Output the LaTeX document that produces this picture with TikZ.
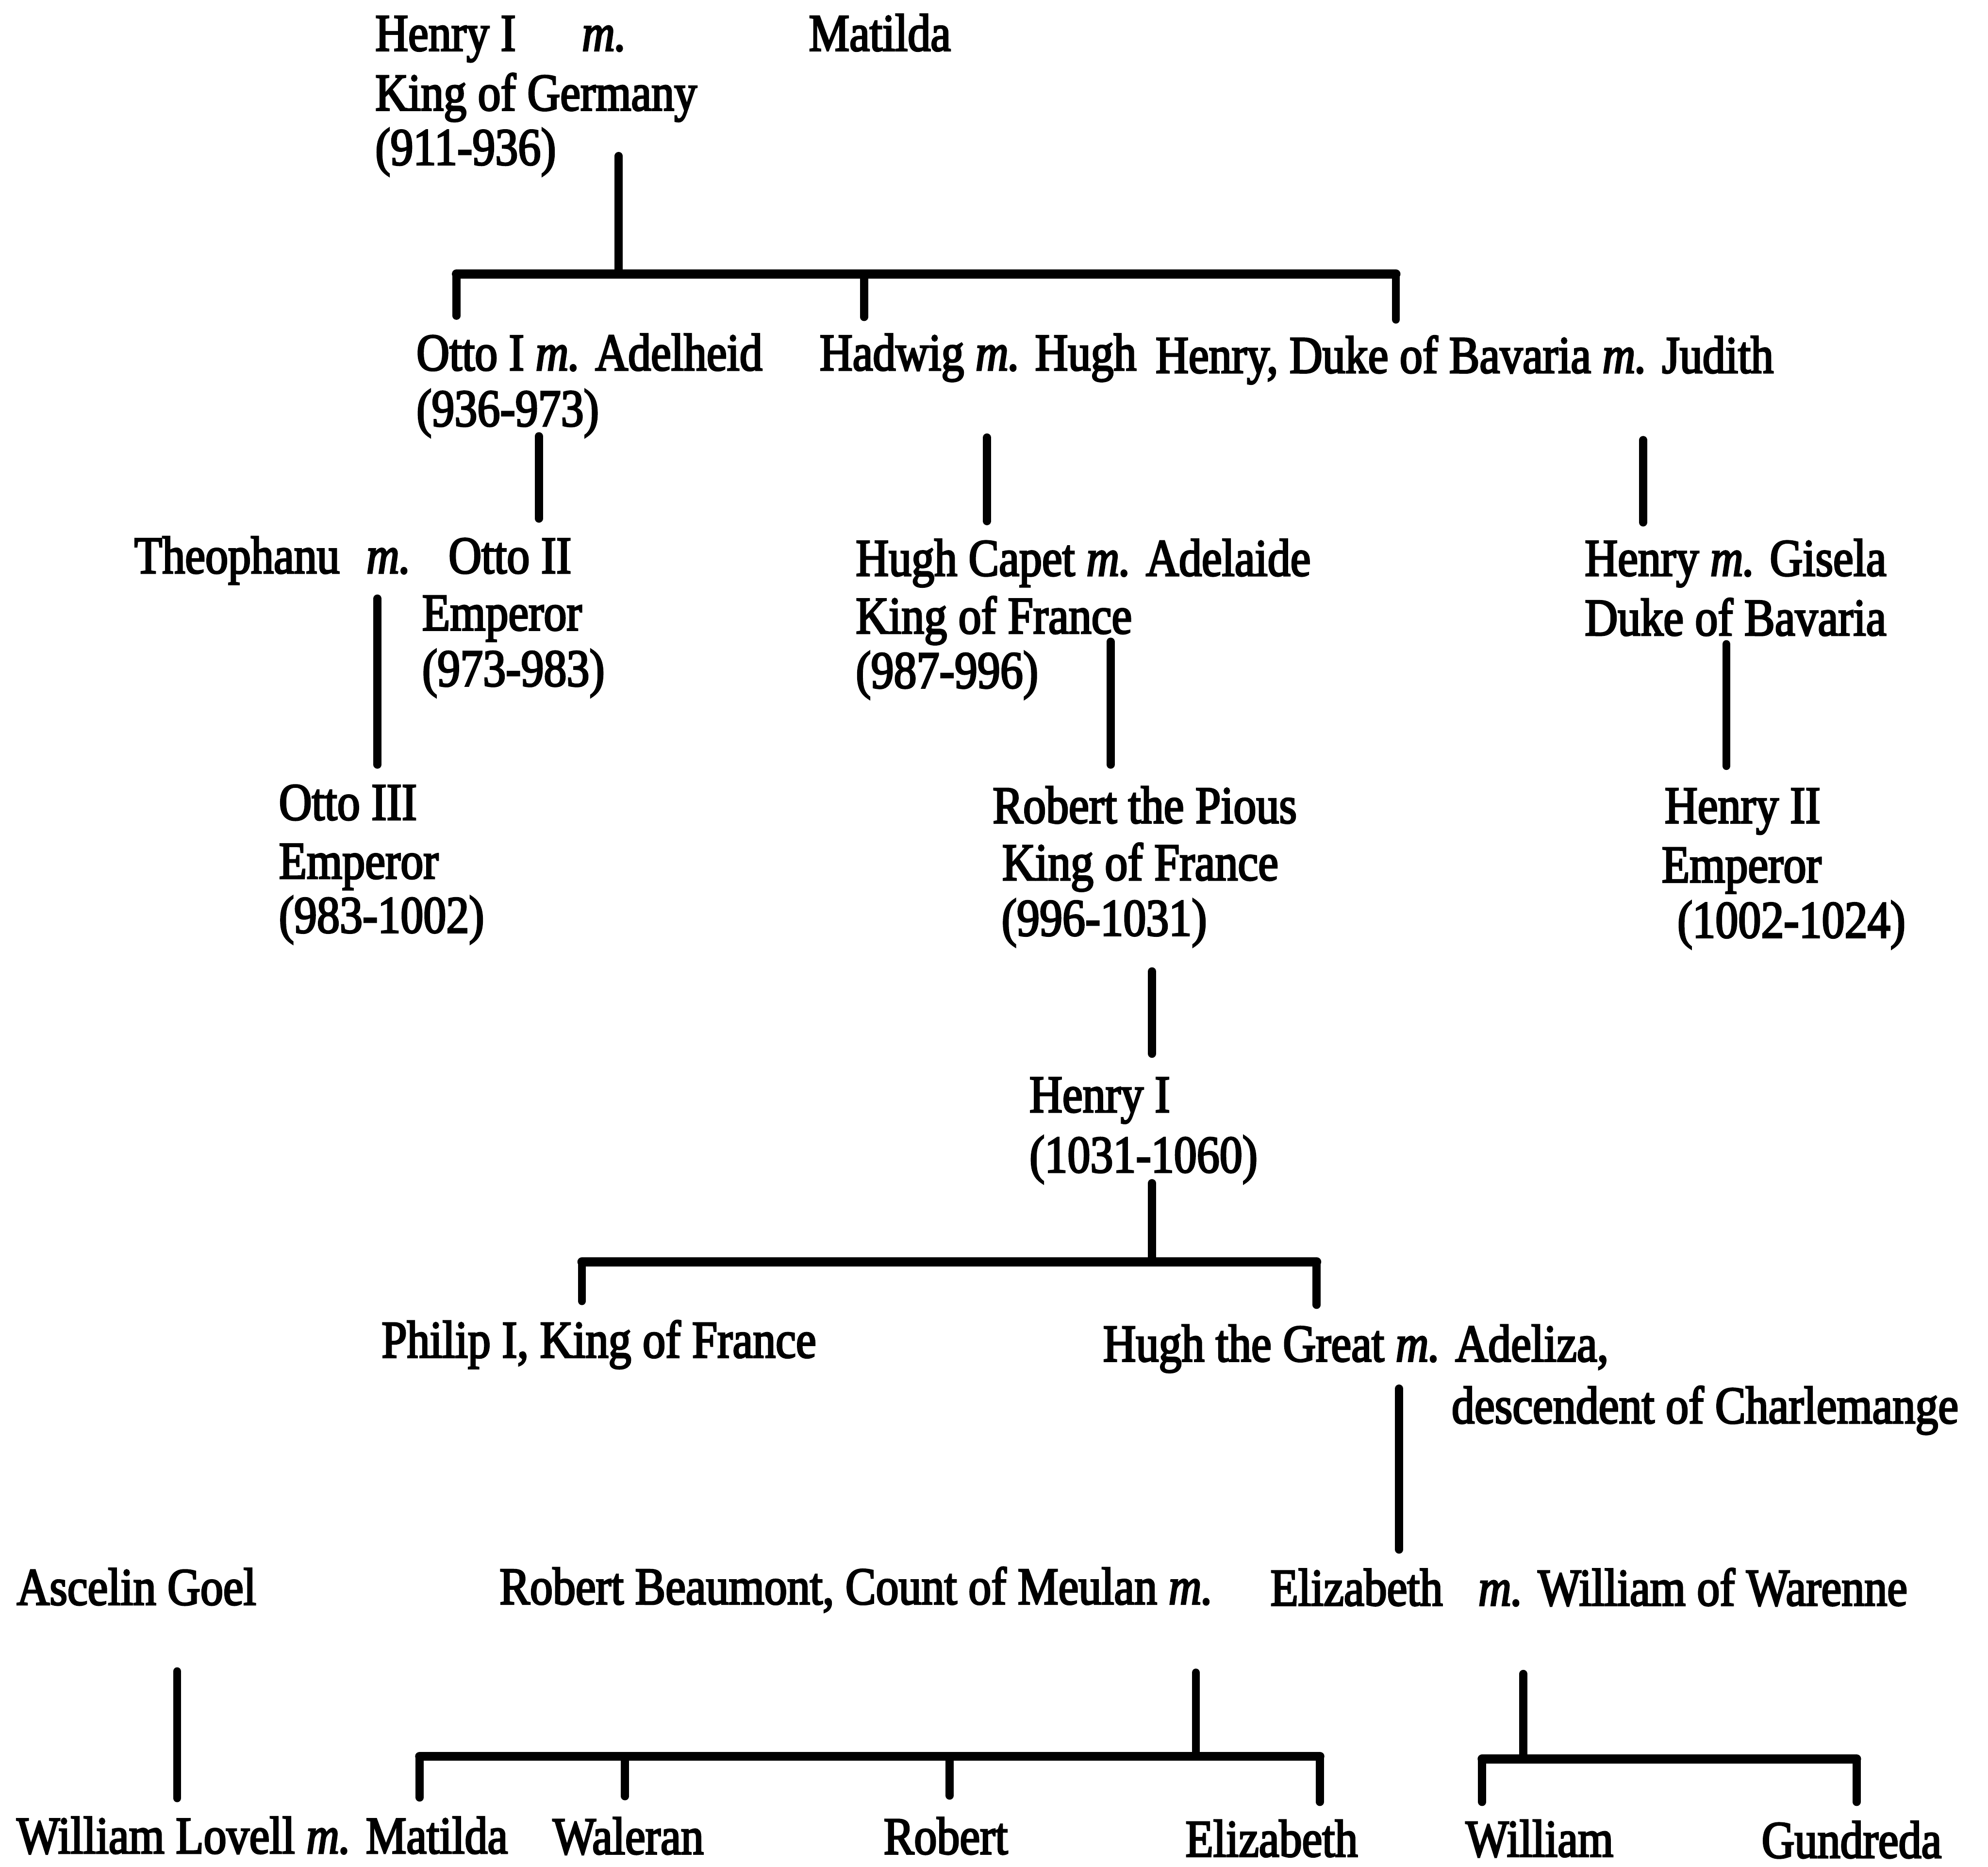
\documentclass[tikz,border=0pt]{standalone}
\usepackage{fontspec}
\setmainfont{Liberation Serif}[FakeStretch=0.865,FakeBold=3]
\begin{document}
\begin{tikzpicture}[x=0.5pt,y=-0.5pt,
    lbl/.style={anchor=base west,inner sep=0pt,outer sep=0pt,
      font=\fontsize{20.8pt}{24pt}\selectfont},
    conn/.style={line width=3.2pt,line cap=round},
    bar/.style={line width=3.6pt,line cap=round}]
\useasboundingbox (0,0) rectangle (1568,1472);

% Generation 1
\node[lbl] (henryG)   at (296,40)  {Henry I};
\node[lbl] (henryGm)  at (459,40)  {\textit{m.}};
\node[lbl] (matildaG) at (638,40)  {Matilda};
\node[lbl] (henryGt)  at (296,87)  {King of Germany};
\node[lbl] (henryGd)  at (296,130) {(911-936)};

% Generation 2
\node[lbl] (ottoI)   at (328.5,292) {Otto I \textit{m.} Adelheid};
\node[lbl] (ottoId)  at (328.5,336) {(936-973)};
\node[lbl] (hadwig)  at (646.5,292) {Hadwig \textit{m.} Hugh};
\node[lbl] (henryB)  at (911.5,294) {Henry, Duke of Bavaria \textit{m.} Judith};

% Generation 3
\node[lbl] (theo)    at (106,452)   {Theophanu};
\node[lbl] (theom)   at (289,452)   {\textit{m.}};
\node[lbl] (ottoII)  at (353.8,452) {Otto II};
\node[lbl] (ottoIIt) at (333,497)   {Emperor};
\node[lbl] (ottoIId) at (333,541)   {(973-983)};
\node[lbl] (capet)   at (675,454)   {Hugh Capet \textit{m.} Adelaide};
\node[lbl] (capett)  at (675,499.5) {King of France};
\node[lbl] (capetd)  at (675,542.5) {(987-996)};
\node[lbl] (henryGi) at (1250,454)  {Henry \textit{m.} Gisela};
\node[lbl] (henryGit) at (1250,501) {Duke of Bavaria};

% Generation 4
\node[lbl] (ottoIII)  at (220,646.5)   {Otto III};
\node[lbl] (ottoIIIt) at (220,692.8)   {Emperor};
\node[lbl] (ottoIIId) at (220,735.5)   {(983-1002)};
\node[lbl] (robertP)  at (783,649)     {Robert the Pious};
\node[lbl] (robertPt) at (790.5,694)   {King of France};
\node[lbl] (robertPd) at (790,737.8)   {(996-1031)};
\node[lbl] (henryII)  at (1313,649)    {Henry II};
\node[lbl] (henryIIt) at (1310.7,695.7) {Emperor};
\node[lbl] (henryIId) at (1323,739.4)  {(1002-1024)};

% Generation 5
\node[lbl] (henryF)  at (812,877)   {Henry I};
\node[lbl] (henryFd) at (812,924.5) {(1031-1060)};

% Generation 6
\node[lbl] (philip)  at (301,1070.5)  {Philip I, King of France};
\node[lbl] (hughG)   at (870,1073.5)  {Hugh the Great \textit{m.} Adeliza,};
\node[lbl] (adeliza) at (1145,1122.3) {descendent of Charlemange};

% Generation 7
\node[lbl] (ascelin)  at (13.2,1265.5) {Ascelin Goel};
\node[lbl] (beaumont) at (394,1265)    {Robert Beaumont, Count of Meulan \textit{m.}};
\node[lbl] (elizA)    at (1002,1266)   {Elizabeth};
\node[lbl] (warenne)  at (1166,1266)   {\textit{m.} William of Warenne};

% Generation 8
\node[lbl] (lovell)   at (13.2,1461.5) {William Lovell \textit{m.} Matilda};
\node[lbl] (waleran)  at (436,1462)    {Waleran};
\node[lbl] (robertB)  at (697,1462)    {Robert};
\node[lbl] (elizB)    at (935,1464)    {Elizabeth};
\node[lbl] (williamW) at (1156,1464)   {William};
\node[lbl] (gundreda) at (1389.5,1465) {Gundreda};

% Line ends
\coordinate (g1top) at (488,123);
\coordinate (g1bar) at (488,216);
\coordinate (g1L)  at (360,216);
\coordinate (g1M)  at (681.5,216);
\coordinate (g1R)  at (1101,216);
\coordinate (g1Ld) at (360,249);
\coordinate (g1Md) at (681.5,250);
\coordinate (g1Rd) at (1101,252);

\coordinate (ottoIa)  at (425,344);
\coordinate (ottoIb)  at (425,409);
\coordinate (hadwiga) at (778.4,345);
\coordinate (hadwigb) at (778.4,411);
\coordinate (henryBa) at (1296,347);
\coordinate (henryBb) at (1296,412);

\coordinate (ottoIIa) at (297.7,472);
\coordinate (ottoIIb) at (297.7,603);
\coordinate (capeta)  at (876,506);
\coordinate (capetb)  at (876,603);
\coordinate (henryGia) at (1361.6,508);
\coordinate (henryGib) at (1361.6,604);

\coordinate (robertPa) at (908.6,766);
\coordinate (robertPb) at (908.6,831);

\coordinate (henryFa) at (908.6,933);
\coordinate (henryFb) at (908.6,995);
\coordinate (g5L)  at (459,995);
\coordinate (g5R)  at (1038.5,995);
\coordinate (g5Ld) at (459,1026);
\coordinate (g5Rd) at (1038.5,1029);

\coordinate (hughGa) at (1103.5,1095);
\coordinate (hughGb) at (1103.5,1222);

\coordinate (ascelina) at (139.7,1318);
\coordinate (ascelinb) at (139.7,1418);

\coordinate (beauma) at (943.2,1319);
\coordinate (beaumb) at (943.2,1385);
\coordinate (g7L)  at (331,1385);
\coordinate (g7A)  at (493,1385);
\coordinate (g7B)  at (749,1385);
\coordinate (g7R)  at (1041,1385);
\coordinate (g7Ld) at (331,1417.5);
\coordinate (g7Ad) at (493,1416.5);
\coordinate (g7Bd) at (749,1416);
\coordinate (g7Rd) at (1041,1421);

\coordinate (warena) at (1201.5,1320);
\coordinate (warenb) at (1201.5,1387);
\coordinate (g7wL)  at (1169,1387);
\coordinate (g7wR)  at (1464.3,1387);
\coordinate (g7wLd) at (1169,1421);
\coordinate (g7wRd) at (1464.3,1421);

% Descent lines
\draw[conn] (g1top) -- (g1bar);
\draw[bar]  (g1L) -- (g1R);
\draw[conn] (g1L) -- (g1Ld);
\draw[conn] (g1M) -- (g1Md);
\draw[conn] (g1R) -- (g1Rd);

\draw[conn] (ottoIa) -- (ottoIb);
\draw[conn] (hadwiga) -- (hadwigb);
\draw[conn] (henryBa) -- (henryBb);

\draw[conn] (ottoIIa) -- (ottoIIb);
\draw[conn] (capeta) -- (capetb);
\draw[conn] (henryGia) -- (henryGib);

\draw[conn] (robertPa) -- (robertPb);

\draw[conn] (henryFa) -- (henryFb);
\draw[bar]  (g5L) -- (g5R);
\draw[conn] (g5L) -- (g5Ld);
\draw[conn] (g5R) -- (g5Rd);

\draw[conn] (hughGa) -- (hughGb);

\draw[conn] (ascelina) -- (ascelinb);

\draw[conn] (beauma) -- (beaumb);
\draw[bar]  (g7L) -- (g7R);
\draw[conn] (g7L) -- (g7Ld);
\draw[conn] (g7A) -- (g7Ad);
\draw[conn] (g7B) -- (g7Bd);
\draw[conn] (g7R) -- (g7Rd);

\draw[conn] (warena) -- (warenb);
\draw[bar]  (g7wL) -- (g7wR);
\draw[conn] (g7wL) -- (g7wLd);
\draw[conn] (g7wR) -- (g7wRd);
\end{tikzpicture}
\end{document}
